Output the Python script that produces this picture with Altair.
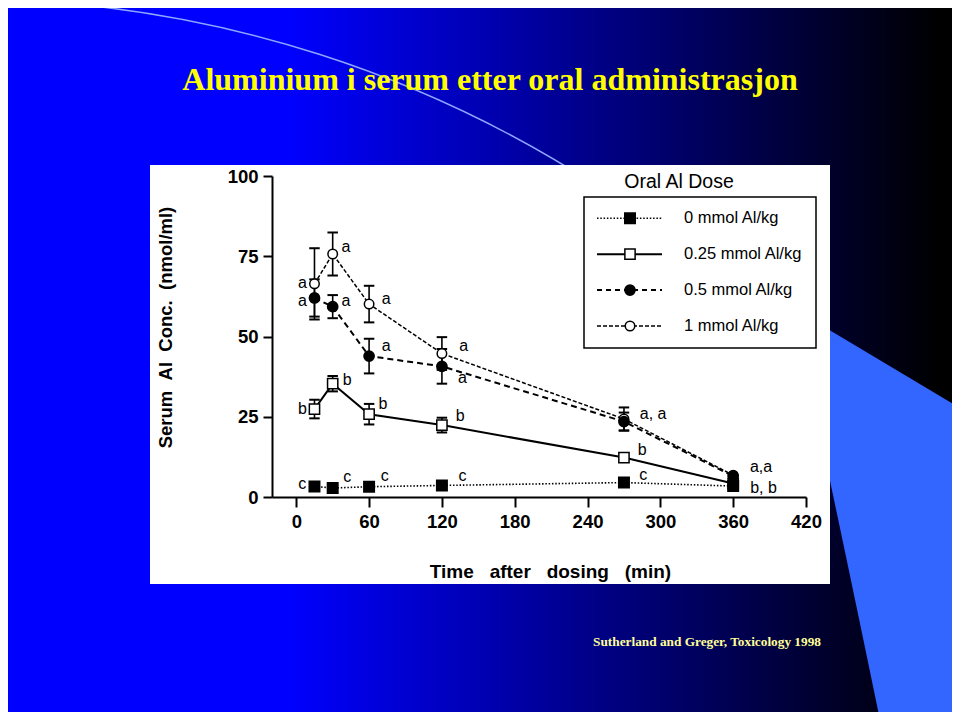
import altair as alt
import pandas as pd

# ---------------- data ----------------
times = [15, 30, 60, 120, 270, 360]
series = ["0 mmol Al/kg", "0.25 mmol Al/kg", "0.5 mmol Al/kg", "1 mmol Al/kg"]
mean_0 = [3.3, 2.8, 3.2, 3.6, 4.5, 3.4]
err_0 = [0, 0, 0, 0, 0, 0]
mean_025 = [27.4, 35.3, 25.8, 22.4, 12.3, 4.2]
err_025 = [2.9, 2.4, 3.2, 2.3, 0, 0]
mean_05 = [62.0, 59.3, 43.9, 40.7, 23.5, 6.5]
err_05 = [5.8, 3.6, 5.4, 5.4, 2.8, 0]
mean_1 = [66.4, 75.7, 60.1, 44.7, 24.3, 6.8]
err_1 = [11.1, 6.7, 5.7, 5.1, 3.6, 0]

label_time = [5, 5, 41, 41, 74, 74, 138, 137, 294, 383, 5, 42, 71.5, 135, 285, 385, 5, 42, 73, 137, 286]
label_value = [66.6, 61.1, 78.0, 61.1, 61.7, 47.1, 46.9, 37.0, 25.8, 9.3, 27.4, 36.3, 29.0, 25.1, 14.7,
               2.8, 4.0, 6.2, 6.4, 6.4, 6.9]
label_text = ["a", "a", "a", "a", "a", "a", "a", "a", "a, a", "a,a", "b", "b", "b", "b", "b", "b, b",
              "c", "c", "c", "c", "c"]

x_ticks = [0, 60, 120, 180, 240, 300, 360, 420]
y_ticks = [0, 25, 50, 75, 100]

title_text = "Aluminium i serum etter oral administrasjon"
source_text = "Sutherland and Greger, Toxicology 1998"
legend_title = "Oral Al Dose"
x_title = "Time after dosing (min)"
y_title = "Serum Al Conc. (nmol/ml)"

# ---------------- styling ----------------
styles = [
    dict(shape="square", fill="black", size=110, dash=[1.5, 1.8], width=1.6, lw_dash=[1.5, 1.8]),
    dict(shape="square", fill="white", size=105, dash=None, width=2.0, lw_dash=None),
    dict(shape="circle", fill="black", size=105, dash=[6, 4], width=2.0, lw_dash=[5, 4]),
    dict(shape="circle", fill="white", size=90, dash=[4, 2], width=1.5, lw_dash=[4, 2]),
]

PLOT_LEFT, PLOT_TOP = 272, 176   # page position of plot origin
W, H = 534, 321


def px(x):
    return x - PLOT_LEFT


def py(y):
    return y - PLOT_TOP


one = alt.Data(values=[{"k": 0}])
FONT = "Liberation Sans"

XS = alt.Scale(domain=[-20, 420], nice=False, zero=False)
YS = alt.Scale(domain=[0, 100], nice=False, zero=False)
XA = alt.Axis(values=x_ticks, format="d", title=x_title.replace(" ", "\u00a0\u00a0\u00a0"),
              titleX=550 - PLOT_LEFT, titleY=571 - 497, titleAngle=0, titleAlign="center",
              titleBaseline="middle", labelFlush=False, zindex=1, grid=False, tickSize=10,
              titleFontSize=19)
YA = alt.Axis(values=y_ticks, format="d", title=y_title.replace(" ", "\u00a0\u00a0"),
              titleX=165 - PLOT_LEFT, titleY=327 - PLOT_TOP, titleAngle=270, titleAlign="center",
              titleBaseline="middle", labelFlush=False, zindex=1, grid=False, tickSize=9,
              titleFontSize=18.5)


def X(field):
    return alt.X(f"{field}:Q", scale=XS, axis=XA)


def Y(field):
    return alt.Y(f"{field}:Q", scale=YS, axis=YA)


layers = []

# background gradient
layers.append(alt.Chart(one).mark_rect(
    fill={"gradient": "linear", "x1": 0, "x2": 1, "y1": 0, "y2": 0,
          "stops": [{"offset": 0, "color": "#0000FF"}, {"offset": 0.3, "color": "#0000FF"},
                    {"offset": 0.98, "color": "#000000"}]}
).encode(x=alt.value(px(0)), x2=alt.value(px(960)), y=alt.value(py(0)), y2=alt.value(py(720))))

# light blue corner shape
layers.append(alt.Chart(one).mark_point(
    shape="M826,328 L960,408 L960,720 L880,720 Q848,565 826,462 Z",
    size=4, filled=True, fill="#3366FF", strokeWidth=0, opacity=1
).encode(x=alt.value(px(0)), y=alt.value(py(0))))

# thin arc
layers.append(alt.Chart(one).mark_point(
    shape="M13,0 A1159,1159 0 0 1 600,188",
    size=4, filled=False, stroke="#8FA6FF", strokeWidth=1.5, opacity=1
).encode(x=alt.value(px(0)), y=alt.value(py(0))))

# white panel
layers.append(alt.Chart(one).mark_rect(fill="white").encode(
    x=alt.value(px(150)), x2=alt.value(px(830)), y=alt.value(py(165)), y2=alt.value(py(584))))

# slide title & source
layers.append(alt.Chart(one).mark_text(
    text=title_text, font="Liberation Serif", fontWeight="bold", fontSize=32, color="#FFFF00",
    align="center", baseline="alphabetic"
).encode(x=alt.value(px(490)), y=alt.value(py(90))))
layers.append(alt.Chart(one).mark_text(
    text=source_text, font="Liberation Serif", fontWeight="bold", fontSize=13.3, color="#FFFF99",
    align="center", baseline="alphabetic"
).encode(x=alt.value(px(707)), y=alt.value(py(646))))

# legend
layers.append(alt.Chart(one).mark_text(
    text=legend_title, font=FONT, fontSize=19.5, color="black", align="center", baseline="middle"
).encode(x=alt.value(px(679)), y=alt.value(py(182))))
layers.append(alt.Chart(one).mark_rect(fill="white", stroke="black", strokeWidth=1.5).encode(
    x=alt.value(px(584)), x2=alt.value(px(816)), y=alt.value(py(197)), y2=alt.value(py(348))))
for i, (name, st) in enumerate(zip(series, styles)):
    yy = py(218.3 + 35.9 * i)
    rkw = dict(color="black", strokeWidth=st["width"])
    if st["lw_dash"]:
        rkw["strokeDash"] = st["lw_dash"]
    layers.append(alt.Chart(one).mark_rule(**rkw).encode(
        x=alt.value(px(597)), x2=alt.value(px(662)), y=alt.value(yy)))
    layers.append(alt.Chart(one).mark_point(
        shape=st["shape"], filled=True, fill=st["fill"], stroke="black", strokeWidth=1.5,
        size=st["size"], opacity=1
    ).encode(x=alt.value(px(630)), y=alt.value(yy)))
    layers.append(alt.Chart(one).mark_text(
        text=name, font=FONT, fontSize=16.5, color="black", align="left", baseline="middle"
    ).encode(x=alt.value(px(684)), y=alt.value(yy)))

# data
means = [mean_0, mean_025, mean_05, mean_1]
errs = [err_0, err_025, err_05, err_1]
rows = []
for name, m, e in zip(series, means, errs):
    for t, mv, ev in zip(times, m, e):
        rows.append({"series": name, "time": t, "mean": mv, "err": ev, "lo": mv - ev, "hi": mv + ev})
df = pd.DataFrame(rows)

order = [3, 1, 2, 0]
for i in order:
    st = styles[i]
    d = df[df.series == series[i]]
    lkw = dict(color="black", strokeWidth=st["width"])
    if st["dash"]:
        lkw["strokeDash"] = st["dash"]
    layers.append(alt.Chart(d).mark_line(**lkw).encode(x=X("time"), y=Y("mean")))

for i in order:
    d = df[(df.series == series[i]) & (df.err > 0)]
    if len(d) == 0:
        continue
    layers.append(alt.Chart(d).mark_rule(color="black", strokeWidth=1.6).encode(
        x=X("time"), y=Y("lo"), y2="hi:Q"))
    for f in ["lo", "hi"]:
        layers.append(alt.Chart(d).mark_point(
            shape="stroke", size=110, filled=False, stroke="black", strokeWidth=2, opacity=1
        ).encode(x=X("time"), y=Y(f)))

for i in order:
    st = styles[i]
    d = df[df.series == series[i]]
    layers.append(alt.Chart(d).mark_point(
        shape=st["shape"], filled=True, fill=st["fill"], stroke="black", strokeWidth=1.5,
        size=st["size"], opacity=1
    ).encode(x=X("time"), y=Y("mean")))

labels = pd.DataFrame({"t": label_time, "v": label_value, "txt": label_text})
layers.append(alt.Chart(labels).mark_text(
    font=FONT, fontSize=16, color="black", align="center", baseline="middle"
).encode(x=X("t"), y=Y("v"), text="txt:N"))

chart = alt.layer(*layers).properties(
    width=W, height=H,
    padding={"left": PLOT_LEFT - 8, "top": PLOT_TOP - 8, "right": 952 - (PLOT_LEFT + W),
             "bottom": 712 - (PLOT_TOP + H)},
    autosize=alt.AutoSizeParams(type="none"),
    background="#000060",
).configure_view(strokeWidth=0).configure_axis(
    domainColor="black", domainWidth=2, tickColor="black", tickWidth=2,
    labelFont=FONT, labelFontSize=18.5, labelFontWeight="bold", labelColor="black", labelPadding=5,
    titleFont=FONT, titleFontWeight="bold", titleColor="black",
)

chart.save("out.html", embed_options={"renderer": "svg", "actions": False})
